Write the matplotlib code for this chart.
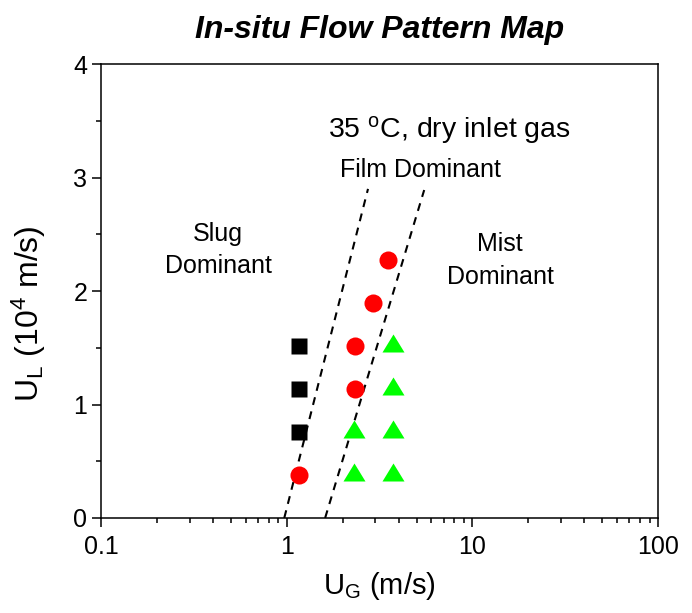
import matplotlib
matplotlib.use("Agg")
import matplotlib.pyplot as plt
from matplotlib.ticker import FixedLocator, NullFormatter, MultipleLocator

plt.rcParams['font.family'] = ['Liberation Sans', 'DejaVu Sans']
plt.rcParams['mathtext.fontset'] = 'custom'
plt.rcParams['mathtext.rm'] = 'Liberation Sans'
plt.rcParams['mathtext.it'] = 'Liberation Sans:italic'

# Flow regime observations (U_G in m/s, U_L in 1e-4 m/s)
slug_ug = [1.16, 1.16, 1.16]
slug_ul = [0.757, 1.136, 1.515]

film_ug = [1.16, 2.33, 2.33, 2.92, 3.51]
film_ul = [0.379, 1.136, 1.515, 1.894, 2.273]

mist_ug = [2.31, 2.31, 3.74, 3.74, 3.74, 3.74]
mist_ul = [0.379, 0.757, 0.379, 0.757, 1.136, 1.515]

# Regime boundaries (endpoints of the dashed transition lines)
boundary1_ug = [0.97, 2.74]
boundary1_ul = [0.0, 2.90]
boundary2_ug = [1.61, 5.50]
boundary2_ul = [0.0, 2.89]

fig = plt.figure(figsize=(6.92, 6.13), dpi=100)
ax = fig.add_axes([0.146, 0.155, 0.805, 0.7405])

# Triangle centred on its centroid
tri = [(-11, -6), (11, -6), (0, 12), (-11, -6)]

ax.plot(boundary1_ug, boundary1_ul, color='black', lw=1.5, ls=(0, (3.8, 3.2)))
ax.plot(boundary2_ug, boundary2_ul, color='black', lw=1.5, ls=(0, (3.8, 3.2)))

ax.plot(slug_ug, slug_ul, ls='none', marker='s', ms=11.5, color='black', mec='none')
ax.plot(film_ug, film_ul, ls='none', marker='o', ms=13, color='#ff0000', mec='none')
ax.plot(mist_ug, mist_ul, ls='none', marker=tri, ms=17.3, color='#00ff00', mec='none')

ax.set_xscale('log')
ax.set_xlim(0.1, 100)
ax.set_ylim(0, 4)

ax.yaxis.set_major_locator(MultipleLocator(1))
ax.yaxis.set_minor_locator(MultipleLocator(0.5))
ax.tick_params(axis='both', which='major', direction='out', length=6.5, width=1.1,
               labelsize=18, top=False, right=False)
ax.tick_params(axis='x', which='major', pad=6)
ax.tick_params(axis='both', which='minor', direction='out', length=3.5, width=1.1,
               top=False, right=False)
ax.set_xticks([0.1, 1, 10, 100])
ax.set_xticklabels(['0.1', '1', '10', '100'])
minor = [m * 10.0 ** e for e in (-1, 0, 1) for m in range(2, 10)]
ax.xaxis.set_minor_locator(FixedLocator(minor))
ax.xaxis.set_minor_formatter(NullFormatter())

for s in ax.spines.values():
    s.set_linewidth(1.1)

ax.set_xlabel(r'U$_\mathregular{G}$ (m/s)', fontsize=21, labelpad=8)
ax.set_ylabel(r'U$_\mathregular{L}$ (10$^\mathregular{4}$ m/s)', fontsize=23)
ax.yaxis.set_label_coords(-0.095, 0.45)

ax.set_title('In-situ Flow Pattern Map', fontsize=23, fontweight='bold',
             fontstyle='italic', pad=19)

ax.text(1.67, 3.42, r'35 $^\mathregular{o}$C, dry inlet gas', fontsize=20.5,
        ha='left', va='center')
ax.text(5.22, 3.07, 'Film Dominant', fontsize=18, ha='center', va='center')
ax.text(0.428, 2.36, 'Slug\nDominant', fontsize=18, ha='center', va='center',
        linespacing=1.45)
ax.text(14.1, 2.27, 'Mist\nDominant', fontsize=18, ha='center', va='center',
        linespacing=1.45)

fig.savefig('out.png', dpi=100)
